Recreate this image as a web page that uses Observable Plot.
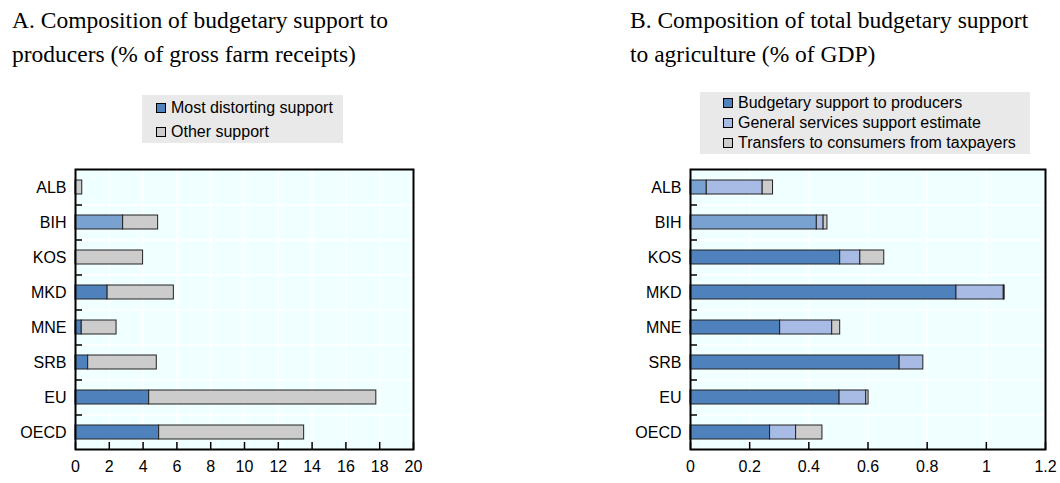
<!DOCTYPE html>
<html><head><meta charset="utf-8">
<script src="https://cdn.jsdelivr.net/npm/d3@7"></script>
<script src="https://cdn.jsdelivr.net/npm/@observablehq/plot@0.6"></script>
<style>
body{margin:0;background:#fff}
#root{position:relative;width:1060px;height:483px;overflow:hidden;font-family:"Liberation Sans",Arial,sans-serif;color:#000}
.title{position:absolute;font-family:"Liberation Serif","Times New Roman",serif;font-size:23.5px;line-height:34px;white-space:nowrap}
.legend{position:absolute;background:#e9e9e9;font-size:16px}
.item{position:absolute;white-space:nowrap;display:flex;align-items:center;height:20px}
.sw{width:10px;height:10px;border:1px solid #000;margin-right:5px;display:inline-block;box-sizing:border-box}
.panel{position:absolute}
</style></head><body>
<div id="root">
  <div class="title" style="left:12px;top:3px">A. Composition of budgetary support to<br>producers (% of gross farm receipts)</div>
  <div class="title" style="left:630px;top:3px">B. Composition of total budgetary support<br>to agriculture (% of GDP)</div>
  <div class="legend" id="legA" style="left:142px;top:95px;width:201px;height:48px"></div>
  <div class="legend" id="legB" style="left:700px;top:92px;width:330px;height:62px"></div>
  <div class="panel" id="pA" style="left:0px;top:150px"></div>
  <div class="panel" id="pB" style="left:530px;top:150px"></div>
</div>
<script>
// ---- Data ----
const countries = ["ALB","BIH","KOS","MKD","MNE","SRB","EU","OECD"];

// Panel A: % of gross farm receipts
const seriesA = ["Most distorting support","Other support"];
const mostDistorting = [0, 2.82, 0, 1.9, 0.37, 0.75, 4.36, 4.95];
const otherSupport   = [0.4, 2.07, 4.0, 3.92, 2.06, 4.06, 13.44, 8.58];
const highlightA = ["BIH"];
const ticksA = [0,2,4,6,8,10,12,14,16,18,20];

// Panel B: % of GDP
const seriesB = ["Budgetary support to producers","General services support estimate","Transfers to consumers from taxpayers"];
const producers = [0.055, 0.427, 0.506, 0.899, 0.303, 0.707, 0.504, 0.269];
const generalServices = [0.189, 0.023, 0.068, 0.160, 0.176, 0.080, 0.090, 0.088];
const consumers = [0.035, 0.013, 0.081, 0.003, 0.027, 0, 0.008, 0.089];
const highlightB = ["ALB","BIH"];
const ticksB = [0,0.2,0.4,0.6,0.8,1,1.2];

// ---- Styles ----
const DARK = "#4f81bd", LIGHT_HL = "#79a2d0", GS = "#a8bbe4", GREY = "#cccccc";
const BG = "#f0ffff";
const colorsA = [DARK, GREY];
const colorsB = [DARK, GS, GREY];

function rows(valuesList, series, colors, hl) {
  const out = [];
  countries.forEach((c, i) => {
    valuesList.forEach((vals, s) => {
      const v = vals[i];
      if (v > 0) out.push({cat: c, series: series[s], value: v,
        color: (s === 0 && hl.includes(c)) ? LIGHT_HL : colors[s]});
    });
  });
  return out;
}
const rowsA = rows([mostDistorting, otherSupport], seriesA, colorsA, highlightA);
const rowsB = rows([producers, generalServices, consumers], seriesB, colorsB, highlightB);

const fmt = d3.format("~g");
const H = 333, MT = 19, MB = 34, PH = H - MT - MB;
const step = PH / countries.length;

function panel(data, ticks, width, ml, mr) {
  const PW = width - ml - mr;
  return Plot.plot({
    width, height: H, marginTop: MT, marginBottom: MB, marginLeft: ml, marginRight: mr,
    style: {fontFamily: "'Liberation Sans', Arial, sans-serif", fontSize: "16px", color: "#000", background: "transparent", overflow: "visible"},
    x: {domain: [ticks[0], ticks[ticks.length-1]], label: null},
    y: {domain: countries, paddingInner: 0.6, paddingOuter: 0.3, label: null},
    marks: [
      Plot.frame({fill: BG, stroke: null}),
      Plot.ruleX(ticks.slice(1), {stroke: "#fff", strokeWidth: 1.5}),
      Plot.ruleY(countries.slice(0, -1), {dy: step/2, stroke: "#fff", strokeWidth: 1.5}),
      Plot.barX(data, Plot.stackX({y: "cat", x: "value", fill: "color", stroke: "#222", strokeWidth: 1})),
      Plot.ruleX(ticks, {insetTop: PH - 7, stroke: "#000", strokeWidth: 1.5}),
      Plot.ruleY(countries.slice(0, -1), {dy: step/2, insetRight: PW - 7, stroke: "#000", strokeWidth: 1.5}),
      Plot.frame({stroke: "#000", strokeWidth: 2}),
      Plot.axisY({tickSize: 0, tickPadding: 9}),
      Plot.axisX({ticks, tickSize: 0, tickPadding: 11, tickFormat: fmt})
    ]
  });
}

document.getElementById("pA").appendChild(panel(rowsA, ticksA, 430, 75, 17));
document.getElementById("pB").appendChild(panel(rowsB, ticksB, 530, 160, 15));

function legend(id, series, colors, left, firstCenter, spacing) {
  const el = document.getElementById(id);
  const top0 = parseFloat(el.style.top);
  series.forEach((s, i) => {
    const it = document.createElement("div");
    it.className = "item";
    it.style.left = left + "px";
    it.style.top = (firstCenter + i*spacing - top0 - 10) + "px";
    it.innerHTML = `<span class="sw" style="background:${colors[i]}"></span>${s}`;
    el.appendChild(it);
  });
}
legend("legA", seriesA, colorsA, 14, 108, 23.5);
legend("legB", seriesB, colorsB, 23, 103, 20);
</script>
</body></html>
